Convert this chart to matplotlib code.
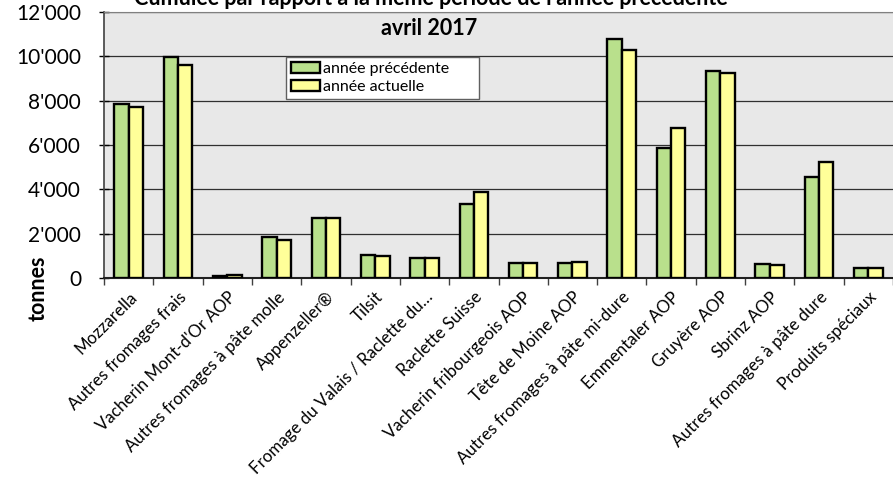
import numpy as np
import matplotlib.pyplot as plt
from matplotlib.patches import Rectangle
from matplotlib.legend_handler import HandlerPatch
from matplotlib.ticker import FuncFormatter

plt.rcParams.update({
    "font.family": ["Lato", "DejaVu Sans"],
    "font.size": 12,
})

categories = [
    "Mozzarella", "Autres fromages frais", "Vacherin Mont-d'Or AOP",
    "Autres fromages à pâte molle", "Appenzeller®", "Tilsit",
    "Fromage du Valais / Raclette du…", "Raclette Suisse",
    "Vacherin fribourgeois AOP", "Tête de Moine AOP",
    "Autres fromages à pâte mi-dure", "Emmentaler AOP", "Gruyère AOP",
    "Sbrinz AOP", "Autres fromages à pâte dure", "Produits spéciaux",
]
annee_precedente = [7850, 9980, 110, 1830, 2720, 1040, 900, 3340,
                    660, 690, 10800, 5890, 9350, 630, 4560, 460]
annee_actuelle = [7700, 9600, 120, 1700, 2720, 1000, 880, 3890,
                  670, 740, 10280, 6770, 9260, 600, 5250, 450]

GREEN = "#b9e08c"
YELLOW = "#ffff99"


def square_at_right(legend, orig_handle, xdescent, ydescent, width, height, fontsize):
    # small square pushed to the right end of the handle area
    s = 0.62 * fontsize
    return Rectangle((-xdescent + width - s, -ydescent + (height - s) / 2), s, s)


fig = plt.figure(figsize=(8.93, 4.86), dpi=100)
ax = fig.add_axes([0.1165, 0.428, 0.8835, 0.547])
ax.set_facecolor("#e8e8e8")

x = np.arange(len(categories))
w = 0.29
ax.bar(x - w / 2, annee_precedente, width=w, color=GREEN, edgecolor="black",
       linewidth=1.7, label="année précédente", zorder=3)
ax.bar(x + w / 2, annee_actuelle, width=w, color=YELLOW, edgecolor="black",
       linewidth=1.7, label="année actuelle", zorder=3)

ax.set_xlim(-0.5, len(categories) - 0.5)
ax.set_ylim(0, 12000)
ax.set_yticks(range(0, 12001, 2000))
ax.yaxis.set_major_formatter(FuncFormatter(lambda v, p: "0" if v == 0 else f"{int(v):,}".replace(",", "'")))
ax.tick_params(axis="y", direction="inout", length=7, width=1, labelsize=15, pad=13)
ax.grid(axis="y", color="#303030", linewidth=0.9, zorder=1)

# tick marks between categories, labels at the centres
ax.set_xticks(np.arange(-0.5, len(categories), 1.0))
ax.set_xticklabels([])
ax.tick_params(axis="x", which="major", direction="out", length=5, width=1, color="#404040")
ax.set_xticks(x, minor=True)
ax.set_xticklabels(categories, minor=True, rotation=45, ha="right",
                   rotation_mode="anchor", fontsize=12.2)
ax.tick_params(axis="x", which="minor", length=0, pad=8)

ax.spines["right"].set_visible(False)
ax.spines["top"].set_color("#808080")
ax.spines["left"].set_color("#404040")
ax.spines["bottom"].set_color("#202020")
ax.spines["left"].set_linewidth(1.2)
ax.spines["bottom"].set_linewidth(1.5)

fig.text(0.482, 0.99, "Cumulée par rapport à la même période de l'année précédente",
         ha="center", va="baseline", fontsize=15.5, fontweight="bold")
fig.text(0.48, 0.928, "avril 2017", ha="center", va="baseline",
         fontsize=15.5, fontweight="bold")
fig.text(0.0425, 0.407, "tonnes", rotation=90, ha="center", va="center",
         fontsize=15.5, fontweight="bold")

leg = ax.legend(loc="upper left", bbox_to_anchor=(0.231, 0.831), frameon=True,
                fancybox=False, edgecolor="#606060", framealpha=1,
                handlelength=1.8, handleheight=0.7, handletextpad=0.2,
                borderpad=0.3, labelspacing=0.22, fontsize=11.5,
                borderaxespad=0,
                handler_map={Rectangle: HandlerPatch(patch_func=square_at_right)})
leg.get_frame().set_linewidth(1)
for t in leg.get_texts():
    t.set_text(t.get_text() + "      ")

fig.savefig("out.png", dpi=100)
